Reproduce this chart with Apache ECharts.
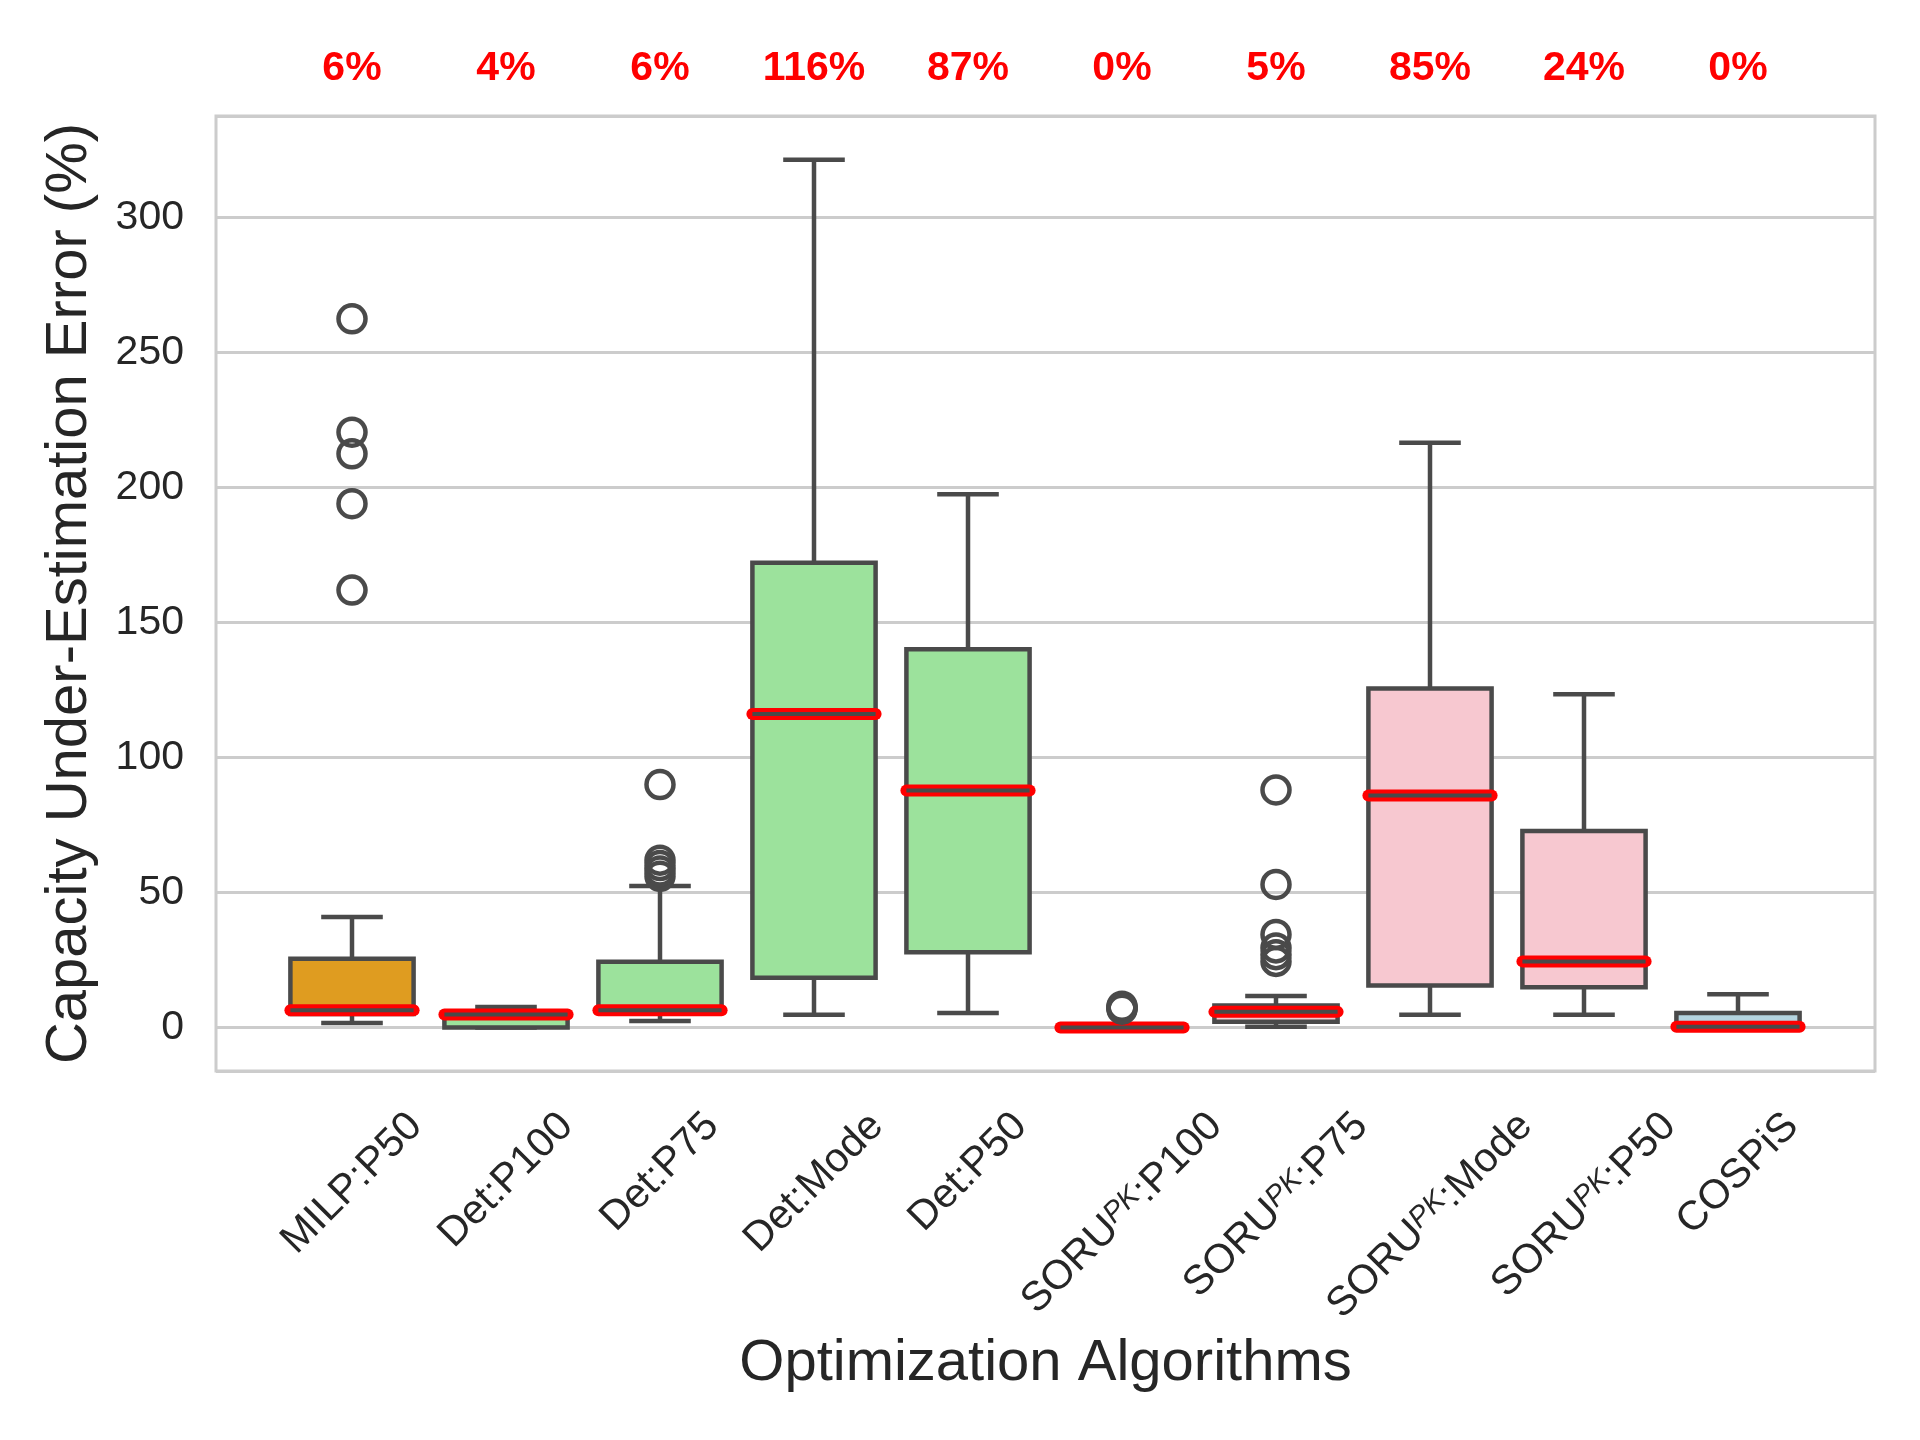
<!DOCTYPE html>
<html>
<head>
    <meta charset="utf-8">
    <script src="https://cdn.jsdelivr.net/npm/echarts@6/dist/echarts.min.js"></script>
    <style>
        body { margin: 0; background: #ffffff; }
    </style>
</head>
<body>
    <div id="main" style="width:1920px; height:1440px"></div>
    <script type="text/javascript">
        // values
        var categories = ['MILP:P50', 'Det:P100', 'Det:P75', 'Det:Mode', 'Det:P50',
            'SORU^PK:P100', 'SORU^PK:P75', 'SORU^PK:Mode', 'SORU^PK:P50', 'COSPiS'];
        var lowWhisker  = [1.7, 0,   2.4,  4.7,   5.4,  0, 0.3, 4.7,   4.7,   0];
        var q1          = [5.0, 0,   5.5,  18.4,  27.9, 0, 2.1, 15.6,  14.9,  0];
        var median      = [6.4, 4.8, 6.4,  116.1, 87.8, 0, 5.8, 85.9,  24.5,  0.3];
        var q3          = [25.5, 5.3, 24.4, 172.1, 140.1, 0, 8.2, 125.6, 72.8, 5.4];
        var highWhisker = [40.9, 7.6, 52.4, 321.4, 197.5, 0, 11.7, 216.6, 123.4, 12.3];
        var outliers = [
            [262.5, 220.5, 212.5, 194, 162],
            [],
            [90, 62, 60, 58, 56],
            [],
            [],
            [7.9, 7.5, 7.1, 6.8],
            [88, 53, 34.5, 29.5, 27, 24.5],
            [],
            [],
            []
        ];
        var medianLabels = ['6%', '4%', '6%', '116%', '87%', '0%', '5%', '85%', '24%', '0%'];

        var boxColors = ['#df9c20', '#9ce29c', '#9ce29c', '#9ce29c', '#9ce29c',
            '#f7c8d0', '#f7c8d0', '#f7c8d0', '#f7c8d0', '#b4d4df'];
        var yMin = -16.1, yMax = 337.6;
        var lineGray = '#4a4a4a';
        var textColor = '#262626';
        var fontFamily = '"Liberation Sans", Arial, sans-serif';

        var boxData = categories.map(function (c, i) {
            return [i, lowWhisker[i], q1[i], median[i], q3[i], highWhisker[i]];
        });
        var outlierData = [];
        outliers.forEach(function (list, i) {
            list.forEach(function (v) { outlierData.push([i, v]); });
        });

        // label width, used to centre the rotated labels on their tick
        var ctx = document.createElement('canvas').getContext('2d');
        function textWidth(s, size, style) {
            ctx.font = (style || '') + ' ' + size + 'px ' + fontFamily;
            return ctx.measureText(s).width;
        }
        var parsed = categories.map(function (c) {
            var m = c.match(/^(.*)\^(PK)(.*)$/);
            if (!m) return {text: '{n|' + c + '}', width: textWidth(c, 41)};
            return {
                text: '{n|' + m[1] + '}{s|' + m[2] + '}{n|' + m[3] + '}',
                width: textWidth(m[1], 41) + textWidth(m[2], 29, 'italic') + textWidth(m[3], 41)
            };
        });

        var myChart = echarts.init(document.getElementById('main'));
        var option = {
            animation: false,
            backgroundColor: '#ffffff',
            grid: [{
                left: 216, right: 45, top: 116, bottom: 369,
                show: true, borderColor: '#cccccc', borderWidth: 3
            }, {
                left: 275, right: 105, top: 116, bottom: 369
            }],
            xAxis: [{
                gridIndex: 1,
                type: 'category',
                data: categories,
                axisLine: {show: false},
                axisTick: {show: false},
                axisLabel: {show: false}
            }, {
                gridIndex: 1,
                type: 'category',
                position: 'top',
                data: medianLabels,
                axisLine: {show: false},
                axisTick: {show: false},
                axisLabel: {
                    interval: 0,
                    margin: 27,
                    color: '#ff0000',
                    fontWeight: 'bold',
                    fontSize: 41,
                    lineHeight: 41,
                    fontFamily: fontFamily
                }
            }, {
                gridIndex: 0,
                type: 'value',
                min: 0,
                max: 1,
                axisLine: {show: false},
                axisTick: {show: false},
                axisLabel: {show: false},
                splitLine: {show: false},
                name: 'Optimization Algorithms',
                nameLocation: 'middle',
                nameGap: 264,
                nameTextStyle: {fontSize: 58, lineHeight: 58, color: textColor, fontFamily: fontFamily}
            }],
            yAxis: [{
                gridIndex: 0,
                type: 'value',
                min: yMin,
                max: yMax,
                splitNumber: 7,
                name: 'Capacity Under-Estimation Error (%)',
                nameLocation: 'middle',
                nameGap: 117,
                nameTextStyle: {fontSize: 58, lineHeight: 58, color: textColor, fontFamily: fontFamily},
                axisLine: {show: false},
                axisTick: {show: false},
                axisLabel: {
                    fontSize: 41,
                    margin: 32,
                    color: textColor,
                    fontFamily: fontFamily,
                    showMinLabel: false,
                    showMaxLabel: false
                },
                splitLine: {lineStyle: {color: '#cccccc', width: 3}}
            }, {
                gridIndex: 1,
                type: 'value',
                min: yMin,
                max: yMax,
                show: false
            }],
            series: [{
                type: 'custom',
                name: 'boxes',
                xAxisIndex: 0,
                yAxisIndex: 1,
                data: boxData,
                renderItem: function (params, api) {
                    var i = api.value(0);
                    var x = api.coord([i, 0])[0];
                    var bw = api.size([1, 0])[0] * 0.8;
                    var yLo = api.coord([i, api.value(1)])[1];
                    var yQ1 = api.coord([i, api.value(2)])[1];
                    var yMed = api.coord([i, api.value(3)])[1];
                    var yQ3 = api.coord([i, api.value(4)])[1];
                    var yHi = api.coord([i, api.value(5)])[1];
                    var ls = {stroke: lineGray, lineWidth: 4.5};
                    return {
                        type: 'group',
                        children: [
                            {type: 'line', shape: {x1: x, y1: yLo, x2: x, y2: yQ1}, style: ls},
                            {type: 'line', shape: {x1: x, y1: yQ3, x2: x, y2: yHi}, style: ls},
                            {type: 'line', shape: {x1: x - bw / 4, y1: yLo, x2: x + bw / 4, y2: yLo}, style: ls},
                            {type: 'line', shape: {x1: x - bw / 4, y1: yHi, x2: x + bw / 4, y2: yHi}, style: ls},
                            {type: 'rect', shape: {x: x - bw / 2, y: yQ3, width: bw, height: yQ1 - yQ3},
                                style: {fill: boxColors[params.dataIndex], stroke: lineGray, lineWidth: 4.5}},
                            {type: 'line', shape: {x1: x - bw / 2, y1: yMed, x2: x + bw / 2, y2: yMed},
                                style: {stroke: '#ff0000', lineWidth: 12, lineCap: 'round'}},
                            {type: 'line', shape: {x1: x - bw / 2, y1: yMed, x2: x + bw / 2, y2: yMed},
                                style: {stroke: lineGray, lineWidth: 4}}
                        ]
                    };
                }
            }, {
                type: 'scatter',
                name: 'outliers',
                xAxisIndex: 0,
                yAxisIndex: 1,
                data: outlierData,
                symbol: 'circle',
                symbolSize: 27,
                itemStyle: {color: 'rgba(255,255,255,0)', borderColor: lineGray, borderWidth: 4.5, opacity: 1}
            }, {
                type: 'custom',
                name: 'tick labels',
                xAxisIndex: 0,
                yAxisIndex: 1,
                data: categories.map(function (c, i) { return [i]; }),
                renderItem: function (params, api) {
                    var i = params.dataIndex;
                    var pt = api.coord([i, yMin]);
                    var lab = parsed[i];
                    return {
                        type: 'text',
                        x: pt[0] + 0.354 * lab.width,
                        y: pt[1] + 49,
                        rotation: Math.PI / 4,
                        style: {
                            text: lab.text,
                            align: 'right',
                            verticalAlign: 'middle',
                            rich: {
                                n: {fontSize: 41, lineHeight: 41, fontFamily: fontFamily, fill: textColor},
                                s: {fontSize: 29, lineHeight: 14, fontStyle: 'italic', verticalAlign: 'top',
                                    fontFamily: fontFamily, fill: textColor}
                            }
                        }
                    };
                }
            }]
        };
        myChart.setOption(option);
    </script>
</body>
</html>
